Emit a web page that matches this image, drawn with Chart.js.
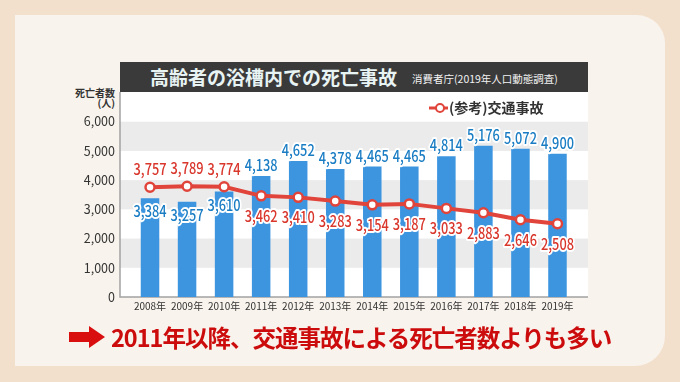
<!DOCTYPE html>
<html lang="ja">
<head>
<meta charset="utf-8">
<script src="https://cdn.jsdelivr.net/npm/chart.js@4.4.1/dist/chart.umd.min.js"></script>
<style>
  html, body { margin:0; padding:0; }
  body { width:680px; height:382px; overflow:hidden; background:#f2dfcc; font-family:"Noto Sans CJK JP","Noto Sans",sans-serif; }
  #wrap { position:relative; width:680px; height:382px; }
  #card { position:absolute; left:15px; top:15px; width:650px; height:351px; background:#f8f3ec; border-radius:0 28px 30px 0; }
  #titlebar { position:absolute; left:120px; top:62px; width:468px; height:30px; background:#3a3a3a; }
  #title { position:absolute; left:30px; top:0; line-height:30px; font-size:19px; font-weight:bold; color:#e8f3f3; white-space:nowrap; }
  #subtitle { position:absolute; left:292px; top:2px; line-height:30px; font-size:10.5px; color:#f2f2f2; white-space:nowrap; }
  #ylab { position:absolute; right:565px; top:88px; text-align:right; font-size:10px; font-weight:bold; line-height:10px; color:#333; white-space:nowrap; }
  #canvas { position:absolute; left:0; top:0; }
  #note { position:absolute; left:69px; top:320px; height:34px; display:flex; align-items:center; white-space:nowrap; }
  #note svg { margin-right:6px; }
  #note span { font-size:23.5px; font-weight:bold; color:#cc0c0c; letter-spacing:-1px; }
</style>
</head>
<body>
<div id="wrap">
  <div id="card"></div>
  <div id="titlebar">
    <div id="title">高齢者の浴槽内での死亡事故</div>
    <div id="subtitle">消費者庁(2019年人口動態調査)</div>
  </div>
  <div id="ylab">死亡者数<br>(人)</div>
  <canvas id="canvas" width="680" height="382"></canvas>
  <div id="note">
    <svg width="36" height="22" viewBox="0 0 36 22"><polygon points="0,6 20,6 20,0 36,11 20,22 20,16 0,16" fill="#d90f0f"/></svg>
    <span>2011年以降、交通事故による死亡者数よりも多い</span>
  </div>
</div>
<script>
// ---- data ----
const years = ["2008年","2009年","2010年","2011年","2012年","2013年","2014年","2015年","2016年","2017年","2018年","2019年"];
const bathDeaths = [3384, 3257, 3610, 4138, 4652, 4378, 4465, 4465, 4814, 5176, 5072, 4900];
const trafficDeaths = [3757, 3789, 3774, 3462, 3410, 3283, 3154, 3187, 3033, 2883, 2646, 2508];
const trafficLabel = "(参考)交通事故";
const yTicks = [0, 1000, 2000, 3000, 4000, 5000, 6000];

const FONT = '"Noto Sans CJK JP","Noto Sans",sans-serif';
const BAR_COLOR = '#3d95e0';
const BAR_TEXT = '#1a7dc4';
const LINE_COLOR = '#e0443a';
const LINE_TEXT = '#d9362c';

const fmt = v => v.toLocaleString('en-US');

const panelPlugin = {
  id: 'panel',
  beforeDraw(chart) {
    const { ctx, chartArea, scales: { y } } = chart;
    const L = chartArea.left - 11.5, R = chartArea.right + 12, T = 92;
    const y0 = y.getPixelForValue(0);
    ctx.save();
    ctx.fillStyle = '#ffffff';
    ctx.fillRect(L, T, R - L, y0 - T);
    ctx.fillStyle = '#ebebeb';
    for (let i = 1; i + 1 < yTicks.length; i += 2) {
      const a = y.getPixelForValue(yTicks[i + 1]), b = y.getPixelForValue(yTicks[i]);
      ctx.fillRect(L, a, R - L, b - a);
    }
    ctx.strokeStyle = '#a3a3a3';
    ctx.lineWidth = 1.5;
    ctx.beginPath();
    ctx.moveTo(L, T); ctx.lineTo(L, y0); ctx.lineTo(R, y0);
    ctx.stroke();
    ctx.restore();
  },
  afterDatasetsDraw(chart) {
    const { ctx } = chart;
    const barMeta = chart.getDatasetMeta(0);
    const lineMeta = chart.getDatasetMeta(1);
    const put = (t, x, yy, c) => {
      ctx.save();
      ctx.translate(x, yy);
      ctx.scale(0.8, 1);
      ctx.font = '500 16px ' + FONT;
      ctx.textAlign = 'center';
      ctx.textBaseline = 'middle';
      ctx.lineJoin = 'round';
      ctx.lineWidth = 4;
      ctx.strokeStyle = '#ffffff';
      ctx.strokeText(t, 0, 0);
      ctx.fillStyle = c;
      ctx.fillText(t, 0, 0);
      ctx.restore();
    };
    bathDeaths.forEach((v, i) => {
      const b = barMeta.data[i], p = lineMeta.data[i];
      const barAbove = v > trafficDeaths[i];
      put(fmt(v), b.x, barAbove ? b.y - 11 : b.y + 13, BAR_TEXT);
      put(fmt(trafficDeaths[i]), p.x, barAbove ? p.y + 20 : p.y - 18, LINE_TEXT);
    });
  },
  afterDraw(chart) {
    const { ctx } = chart;
    const ds = chart.data.datasets[1];
    const x0 = 429, yy = 108;
    ctx.save();
    ctx.strokeStyle = ds.borderColor;
    ctx.lineWidth = 3;
    ctx.beginPath(); ctx.moveTo(x0, yy); ctx.lineTo(x0 + 19, yy); ctx.stroke();
    ctx.beginPath(); ctx.arc(x0 + 11, yy, 4, 0, Math.PI * 2);
    ctx.fillStyle = '#fff'; ctx.fill();
    ctx.lineWidth = 2; ctx.stroke();
    ctx.font = 'bold 14px ' + FONT;
    ctx.fillStyle = '#333';
    ctx.textAlign = 'left';
    ctx.textBaseline = 'middle';
    ctx.fillText(ds.label, x0 + 20, yy);
    ctx.restore();
  }
};

new Chart(document.getElementById('canvas'), {
  data: {
    labels: years,
    datasets: [
      { type: 'bar', label: '浴槽内での死亡事故', data: bathDeaths, backgroundColor: BAR_COLOR,
        barPercentage: 0.5, categoryPercentage: 1, order: 2 },
      { type: 'line', label: trafficLabel, data: trafficDeaths, borderColor: LINE_COLOR, borderWidth: 4,
        pointRadius: 4.5, pointBorderWidth: 2.5, pointBackgroundColor: '#ffffff', pointBorderColor: LINE_COLOR,
        tension: 0, order: 1 }
    ]
  },
  options: {
    responsive: false,
    animation: false,
    devicePixelRatio: 1,
    layout: { padding: { left: 0, right: 104, top: 121.7, bottom: 0 } },
    plugins: { legend: { display: false }, tooltip: { enabled: false } },
    scales: {
      x: {
        grid: { display: false, drawTicks: false },
        border: { display: false },
        ticks: { font: { size: 10, family: FONT }, color: '#333', padding: 3, maxRotation: 0, autoSkip: false },
        afterFit(s) { s.height = 85; }
      },
      y: {
        min: yTicks[0], max: yTicks[yTicks.length - 1],
        afterBuildTicks(s) { s.ticks = yTicks.map(v => ({ value: v })); },
        grid: { display: false, drawTicks: false },
        border: { display: false },
        ticks: { font: { size: 12.5, family: FONT }, color: '#333', padding: 16.5, callback: v => fmt(v) },
        afterFit(s) { s.width = 131.5; }
      }
    }
  },
  plugins: [panelPlugin]
});
</script>
</body>
</html>
